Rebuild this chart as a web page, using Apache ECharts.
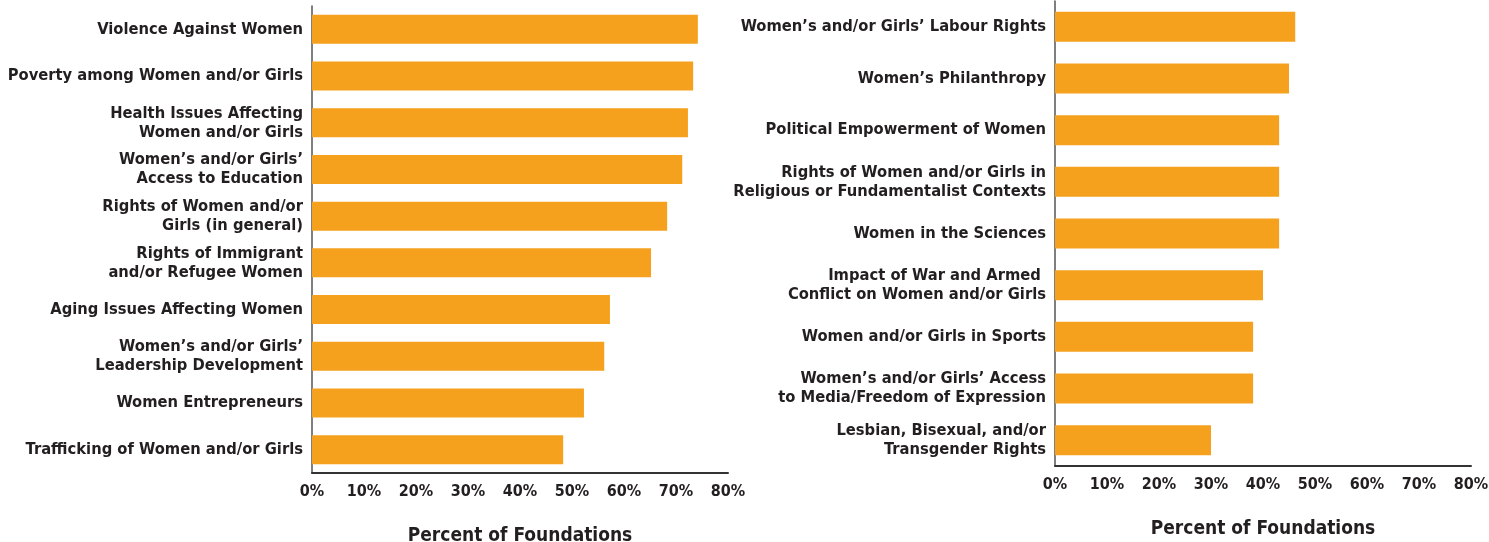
<!DOCTYPE html>
<html><head><meta charset="utf-8">
<script src="https://cdn.jsdelivr.net/npm/echarts@6/dist/echarts.min.js"></script>
<style>html,body{margin:0;padding:0;background:#fff}#c{width:1489px;height:542px}</style>
</head><body><div id="c"></div>
<script>
const leftCategories = [
  "Violence Against Women",
  "Poverty among Women and/or Girls",
  "Health Issues Affecting\nWomen and/or Girls",
  "Women\u2019s and/or Girls\u2019\nAccess to Education",
  "Rights of Women and/or\nGirls (in general)",
  "Rights of Immigrant\nand/or Refugee Women",
  "Aging Issues Affecting Women",
  "Women\u2019s and/or Girls\u2019\nLeadership Development",
  "Women Entrepreneurs",
  "Trafficking of Women and/or Girls"
];
const leftValues = [74.2, 73.3, 72.3, 71.2, 68.3, 65.2, 57.3, 56.2, 52.3, 48.3];
const rightCategories = [
  "Women\u2019s and/or Girls\u2019 Labour Rights",
  "Women\u2019s Philanthropy",
  "Political Empowerment of Women",
  "Rights of Women and/or Girls in\nReligious or Fundamentalist Contexts",
  "Women in the Sciences",
  "Impact of War and Armed \nConflict on Women and/or Girls",
  "Women and/or Girls in Sports",
  "Women\u2019s and/or Girls\u2019 Access\nto Media/Freedom of Expression",
  "Lesbian, Bisexual, and/or\nTransgender Rights"
];
const rightValues = [46.2, 45.0, 43.1, 43.1, 43.1, 40.0, 38.1, 38.1, 30.0];
const xTicks = [0, 10, 20, 30, 40, 50, 60, 70, 80];
const axisTitle = "Percent of Foundations";

const FONT = "'Liberation Sans Narrow', 'DejaVu Sans Condensed', sans-serif";
const TXT = "#231f20";
const BAR = "#f5a11e";

function xAxisDef(idx) {
  return {
    type: 'value', gridIndex: idx, min: 0, max: 80, interval: 10,
    name: axisTitle, nameLocation: 'middle', nameGap: 54,
    nameTextStyle: {fontFamily: FONT, fontSize: 19, color: TXT, fontWeight: 'bold'},
    axisLine: {show: true, lineStyle: {color: '#333', width: 2}},
    axisTick: {show: false}, splitLine: {show: false},
    axisLabel: {fontFamily: FONT, fontSize: 16, color: TXT, margin: 11, fontWeight: 'bold',
      formatter: v => xTicks.includes(v) ? v + '%' : ''}
  };
}
function yAxisDef(idx, cats) {
  return {
    type: 'category', gridIndex: idx, data: cats, inverse: true,
    axisLine: {show: true, lineStyle: {color: '#555', width: 1.5}},
    axisTick: {show: false},
    axisLabel: {fontFamily: FONT, fontSize: 16.4, color: TXT, margin: 9, fontWeight: 'bold',
      align: 'right', lineHeight: 19}
  };
}

const chart = echarts.init(document.getElementById('c'), null, {renderer: 'canvas'});
chart.setOption({
  animation: false,
  grid: [
    {left: 312, width: 416, top: 6, height: 467, outerBoundsMode: 'none', containLabel: false},
    {left: 1055, width: 416, top: 1, height: 465, outerBoundsMode: 'none', containLabel: false}
  ],
  xAxis: [xAxisDef(0), xAxisDef(1)],
  yAxis: [yAxisDef(0, leftCategories), yAxisDef(1, rightCategories)],
  series: [
    {type: 'bar', xAxisIndex: 0, yAxisIndex: 0, data: leftValues, barWidth: '62%',
     itemStyle: {color: BAR}},
    {type: 'bar', xAxisIndex: 1, yAxisIndex: 1, data: rightValues, barWidth: '58%',
     itemStyle: {color: BAR}}
  ]
});
</script></body></html>
